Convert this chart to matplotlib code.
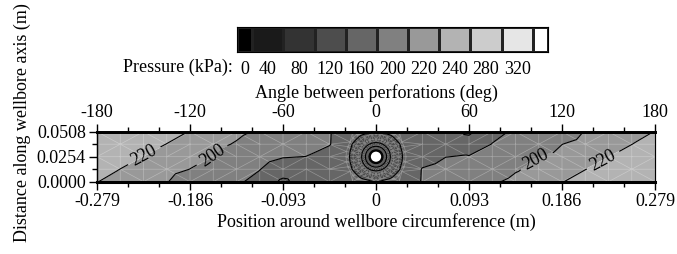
import matplotlib
matplotlib.use("Agg")
import matplotlib.pyplot as plt
import matplotlib.tri as mtri
from matplotlib.colors import ListedColormap
import numpy as np

# --- datos ---
# columnas cada 15 grados (-180..180), filas a lo largo del eje del pozo
angulos = [-180, -165, -150, -135, -120, -105, -90, -75, -60, -45, -30, -15, 0,
           15, 30, 45, 60, 75, 90, 105, 120, 135, 150, 165, 180]
alturas = [0.0, 0.0127, 0.0254, 0.0381, 0.0508]

# presion (kPa) en cada nodo; nan = dentro del perfil radial del disparo central
p_fila0 = [220.5, 213, 207, 201, 189, 177, 165, 150, 112, 140, 135, 128, 118,
           140, 163, 172, 182, 197, 205, 211, 219.6, 224, 228, 232, 235]
p_fila1 = [224, 219.9, 213, 206.5, 199.8, 189, 177, 161, 140, 148, 140, 118.5, np.nan,
           118.5, 162, 172, 180, 188, 198, 206, 213, 219.8, 224, 228, 232]
p_fila2 = [228, 224, 219.8, 213, 206, 199.5, 188, 174, 162, 159.5, 145, np.nan, np.nan,
           np.nan, 145, 159.5, 162, 174, 188, 199.5, 206, 213, 219.8, 224, 228]
p_fila3 = [232, 228, 224, 219.8, 213, 206, 198, 188, 180, 172, 162, 118.5, np.nan,
           118.5, 140, 148, 140, 161, 177, 189, 199.8, 206.5, 213, 219.9, 224]
p_fila4 = [235, 232, 228, 224, 219.6, 211, 205, 197, 182, 172, 163, 140, 118,
           128, 135, 140, 112, 150, 165, 177, 189, 201, 207, 213, 220.5]

# perfil radial alrededor del disparo central
radio_anillo = [0.006, 0.0085, 0.011, 0.014, 0.018, 0.023, 0.030]
p_anillo = [-10, 15, 45, 78, 100, 112, 128]
radio_hueco = 0.006

# escala de grises
niveles = [-100, 0, 40, 80, 120, 160, 200, 220, 240, 280, 320, 400]
grises = ['#000000', '#1a1a1a', '#333333', '#4d4d4d', '#666666', '#808080',
          '#999999', '#b3b3b3', '#cccccc', '#e6e6e6', '#ffffff']
etiquetas_presion = ['0', '40', '80', '120', '160', '200', '220', '240', '280', '320']

pos_ticks = [-0.279, -0.186, -0.093, 0, 0.093, 0.186, 0.279]
pos_etiquetas = ['-0.279', '-0.186', '-0.093', '0', '0.093', '0.186', '0.279']
ang_ticks = [-180, -120, -60, 0, 60, 120, 180]
ang_etiquetas = ['-180', '-120', '-60', '0', '60', '120', '180']
alt_ticks = [0.0, 0.0254, 0.0508]
alt_etiquetas = ['0.0000', '0.0254', '0.0508']

if __name__ == "__main__":
    plt.rcParams['font.family'] = 'Liberation Serif'
    plt.rcParams['font.size'] = 13

    W, H = 677, 254
    fig = plt.figure(figsize=(W / 100, H / 100), dpi=100)

    # nodos de la malla
    L = 0.279
    yc = 0.0254
    alto = 0.0508
    px, py, pv = [], [], []
    filas = [p_fila0, p_fila1, p_fila2, p_fila3, p_fila4]
    for j, fila in enumerate(filas):
        for k, val in enumerate(fila):
            if np.isnan(val):
                continue
            px.append(angulos[k] / 180.0 * L)
            py.append(alturas[j])
            pv.append(val)
    # anillos alrededor del disparo (solo los nodos que caen dentro del dominio)
    th = np.linspace(0, 2 * np.pi, 36, endpoint=False)
    for r, val in zip(radio_anillo, p_anillo):
        for t in th:
            yy = yc + r * np.sin(t)
            if yy < 0.0005 or yy > alto - 0.0005:
                continue
            px.append(r * np.cos(t))
            py.append(yy)
            pv.append(val)
    px, py, pv = np.array(px), np.array(py), np.array(pv)

    tri = mtri.Triangulation(px, py)
    cx = px[tri.triangles].mean(axis=1)
    cy = py[tri.triangles].mean(axis=1)
    tri.set_mask(np.hypot(cx, cy - yc) < radio_hueco)

    ax = fig.add_axes([97 / W, 1 - 181.7 / H, 558 / W, 50 / H])
    ax.tricontourf(tri, pv, levels=niveles, colors=grises)
    ax.triplot(tri, color='white', lw=0.5, alpha=0.3)
    ax.tricontour(tri, pv, levels=[0, 40, 80, 120, 160],
                  colors='black', linewidths=0.8)
    cs = ax.tricontour(tri, pv, levels=[200, 220], colors='black', linewidths=0.8)
    ax.clabel(cs, inline=True, fmt='%d', fontsize=13,
              manual=[(-0.231, 0.025), (-0.163, 0.0254), (0.157, 0.027), (0.227, 0.022)])
    ax.add_patch(plt.Circle((0, yc), radio_hueco, facecolor='white',
                            edgecolor='black', lw=1.2, zorder=5))

    ax.set_xlim(-L, L)
    ax.set_ylim(0, alto)
    ax.set_xticks(pos_ticks)
    ax.set_xticklabels(pos_etiquetas)
    ax.set_xticks(np.linspace(-L, L, 19), minor=True)
    ax.set_yticks(alt_ticks)
    ax.set_yticklabels(alt_etiquetas)
    ax.set_yticks([0.0127, 0.0381], minor=True)
    ax.tick_params(which='major', direction='out', length=6, width=1, pad=2)
    ax.tick_params(which='minor', direction='out', length=3.6, width=1)
    ax.spines['top'].set_linewidth(2)
    ax.spines['bottom'].set_linewidth(2.2)
    ax.spines['left'].set_linewidth(1)
    ax.spines['right'].set_linewidth(0.8)
    ax.set_xlabel('Position around wellbore circumference (m)', labelpad=2)

    # eje superior en grados
    ax2 = ax.twiny()
    ax2.set_xlim(-180, 180)
    ax2.set_xticks(ang_ticks)
    ax2.set_xticklabels(ang_etiquetas)
    ax2.set_xticks(np.arange(-180, 181, 20), minor=True)
    ax2.tick_params(which='major', direction='out', length=6, width=1, pad=2)
    ax2.tick_params(which='minor', direction='out', length=3.6, width=1)
    ax2.spines['top'].set_linewidth(2)
    ax2.set_xlabel('Angle between perforations (deg)', labelpad=4)

    fig.text(22 / W, 1 - 123 / H, 'Distance along wellbore axis (m)',
             rotation=90, ha='center', va='center')

    # barra de escala
    cax = fig.add_axes([236.7 / W, 1 - 52.3 / H, 311.6 / W, 25.6 / H])
    bordes = np.concatenate([[0], np.arange(0.5, 10, 1.0), [10]])
    cax.pcolormesh(bordes, [0, 1], np.arange(len(grises))[None, :],
                   cmap=ListedColormap(grises), edgecolors='#222222', linewidth=0.8)
    centros = (bordes[:-1] + bordes[1:]) / 2
    cax.set_xlim(0, 10)
    cax.set_ylim(0, 1)
    cax.set_xticks(centros[:len(etiquetas_presion)])
    cax.set_xticklabels(etiquetas_presion)
    cax.set_yticks([])
    cax.tick_params(axis='x', length=0, pad=6.5)
    fig.text(233 / W, 1 - 67 / H, 'Pressure (kPa):', ha='right', va='center')

    plt.savefig('out.png', dpi=100)
